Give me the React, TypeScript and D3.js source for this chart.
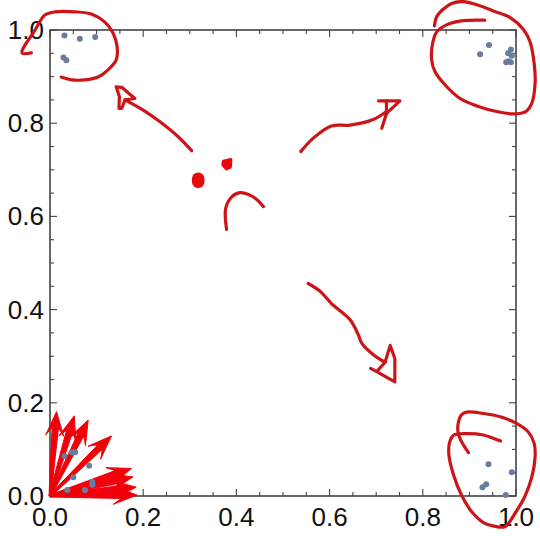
import React from "react";
import * as d3 from "d3";

type P = [number, number];

const majorTicks = [0, 0.2, 0.4, 0.6, 0.8, 1.0];
const minorTicks = d3.range(0, 21).map((i) => i / 20);

const pointsTopLeft: P[] = [[.031,.988],[.064,.981],[.097,.985],[.029,.941],[.035,.935]];
const pointsTopRight: P[] = [[.942,.968],[.923,.948],[.989,.958],[.983,.950],[.991,.945],[.979,.931],[.984,.933],[.989,.931]];
const pointsBottomRight: P[] = [[.941,.068],[.991,.051],[.936,.025],[.928,.019],[.978,.002]];
const pointsBottomLeft: P[] = [[.031,.086],[.047,.094],[.054,.094],[.084,.065],[.050,.040],[.091,.030],[.091,.024],[.037,.013],[.075,.013]];

const arrowTips: P[] = [[.014,.181],[.052,.172],[.082,.163],[.132,.129],[.175,.059],[.178,.041],[.185,.019],[.187,.002]];

const circleTopLeft: P[] = [[-.04,.951],[-.06,.951],[-.032,1.0],[-.011,1.032],[.011,1.039],[.054,1.039],[.09,1.034],[.118,1.017],[.135,.994],[.144,.964],[.142,.936],[.124,.914],[.103,.899],[.075,.893],[.047,.893],[.024,.899]];
const circleTopRight: P[] = [[.825,1.009],[.830,1.029],[.843,1.044],[.862,1.057],[.887,1.061],[.916,1.054],[.951,1.041],[.987,1.027],[1.016,1.001],[1.03,.975],[1.039,.928],[1.041,.886],[1.034,.843],[1.021,.825],[.994,.820],[.959,.825],[.916,.837],[.880,.853],[.848,.882],[.826,.911],[.819,.936],[.821,.971],[.830,.996],[.851,1.011],[.887,1.020],[.933,1.021]];
const circleBottomRight: P[] = [[.898,.093],[.883,.117],[.876,.134],[.876,.156],[.883,.174],[.894,.180],[.930,.177],[.966,.170],[1.001,.156],[1.026,.138],[1.039,.113],[1.041,.084],[1.034,.041],[1.019,-.001],[.998,-.037],[.976,-.066],[.951,-.064],[.930,-.057],[.905,-.034],[.883,.002],[.866,.045],[.856,.088],[.858,.117],[.867,.131],[.894,.134],[.930,.131],[.951,.124],[.967,.118]];

const shaftUpLeft: P[] = [[.304,.741],[.275,.771],[.236,.803],[.200,.828],[.161,.850]];
const headUpLeft: P[] = [[.161,.850],[.182,.853],[.154,.877],[.142,.878],[.149,.857],[.148,.832],[.154,.832],[.161,.850]];
const shaftUpRight: P[] = [[.538,.739],[.565,.768],[.604,.794],[.644,.796],[.694,.808],[.722,.825]];
const headUpRight: P[] = [[.705,.848],[.751,.848],[.722,.821],[.712,.789]];
const headUpRightBar: P[] = [[.722,.848],[.722,.821]];
const shaftDownRight: P[] = [[.554,.456],[.579,.440],[.604,.413],[.644,.378],[.662,.345],[.669,.328],[.694,.303],[.719,.287]];
const headDownRight: P[] = [[.688,.274],[.701,.267],[.719,.287],[.730,.323],[.740,.295],[.740,.245],[.701,.267]];
const hook: P[] = [[.379,.572],[.377,.617],[.390,.642],[.408,.651],[.426,.647],[.443,.637],[.458,.621]];

const blobLarge: P[] = [[.318,.681],[.318,.674]];
const blobSmall: P[] = [[.372,.718],[.388,.722],[.387,.706],[.379,.702],[.371,.711]];

const W = 540, H = 536;
const x = d3.scaleLinear().domain([0, 1]).range([50, 516]);
const y = d3.scaleLinear().domain([0, 1]).range([496, 30]);

const smooth = d3.line<P>().x((d) => x(d[0])).y((d) => y(d[1])).curve(d3.curveCatmullRom.alpha(0.5));
const straight = d3.line<P>().x((d) => x(d[0])).y((d) => y(d[1]));

const INK = "#cc1518";
const ARROW = "#f2000a";
const FRAME = "#444444";
const DOT = "#6b7d9e";
const FONT = "'Liberation Sans', Arial, sans-serif";

function arrowHead(tip: P): string {
  const tx = x(tip[0]), ty = y(tip[1]);
  const a = Math.atan2(ty - y(0), tx - x(0));
  const c = Math.cos(a), s = Math.sin(a);
  const at = (back: number, side: number) => [tx - back * c - side * s, ty - back * s + side * c];
  const pts = [at(0, 0), at(24, 9), at(17, 4), at(19, 0), at(17, -4), at(24, -9)];
  return "M" + pts.map((p) => p.join(",")).join("L") + "Z";
}

function arrowShaft(tip: P): string {
  const tx = x(tip[0]), ty = y(tip[1]);
  const a = Math.atan2(ty - y(0), tx - x(0));
  const c = Math.cos(a), s = Math.sin(a);
  const at = (back: number, side: number) => [tx - back * c - side * s, ty - back * s + side * c];
  const len = Math.hypot(tx - x(0), ty - y(0));
  const pts = [at(len, 1), at(16, 3.2), at(16, -3.2), at(len, -1)];
  return "M" + pts.map((p) => p.join(",")).join("L") + "Z";
}

export default function App() {
  return (
    <svg width={W} height={H} style={{ position: "absolute", left: 0, top: 0, background: "#fff" }}>
      <rect x={x(0)} y={y(1)} width={x(1) - x(0)} height={y(0) - y(1)} fill="none" stroke={FRAME} strokeWidth={1.6} />
      {minorTicks.map((t, i) => {
        const len = i % 4 === 0 ? 7 : 4;
        return (
          <g key={i} stroke={FRAME} strokeWidth={1.1}>
            <line x1={x(t)} x2={x(t)} y1={y(0)} y2={y(0) - len} />
            <line x1={x(t)} x2={x(t)} y1={y(1)} y2={y(1) + len} />
            <line x1={x(0)} x2={x(0) + len} y1={y(t)} y2={y(t)} />
            <line x1={x(1)} x2={x(1) - len} y1={y(t)} y2={y(t)} />
          </g>
        );
      })}
      <g fontFamily={FONT} fontSize={26} fill="#111">
        {majorTicks.map((t) => (
          <text key={"x" + t} x={x(t)} y={526} textAnchor="middle">{t.toFixed(1)}</text>
        ))}
        {majorTicks.map((t) => (
          <text key={"y" + t} x={44} y={y(t) + 9} textAnchor="end">{t.toFixed(1)}</text>
        ))}
      </g>

      {arrowTips.map((t, i) => (
        <g key={i} fill={ARROW} stroke={ARROW} strokeWidth={1}>
          <path d={arrowShaft(t)} />
          <path d={arrowHead(t)} />
        </g>
      ))}

      {[...pointsTopLeft, ...pointsTopRight, ...pointsBottomRight, ...pointsBottomLeft].map((p, i) => (
        <circle key={i} cx={x(p[0])} cy={y(p[1])} r={3} fill={DOT} />
      ))}

      <g fill="none" stroke={INK} strokeWidth={3.2} strokeLinecap="round" strokeLinejoin="round">
        {[circleTopLeft, circleTopRight, circleBottomRight, shaftUpLeft, shaftUpRight, shaftDownRight, hook].map((s, i) => (
          <path key={i} d={smooth(s) ?? ""} />
        ))}
        {[headUpLeft, headUpRight, headUpRightBar, headDownRight].map((s, i) => (
          <path key={i} d={straight(s) ?? ""} />
        ))}
        <path d={straight(blobLarge) ?? ""} strokeWidth={12.5} stroke="#e8090f" />
        <path d={straight(blobSmall) + "Z"} fill="#e8090f" stroke="#e8090f" strokeWidth={3.2} />
      </g>
    </svg>
  );
}
